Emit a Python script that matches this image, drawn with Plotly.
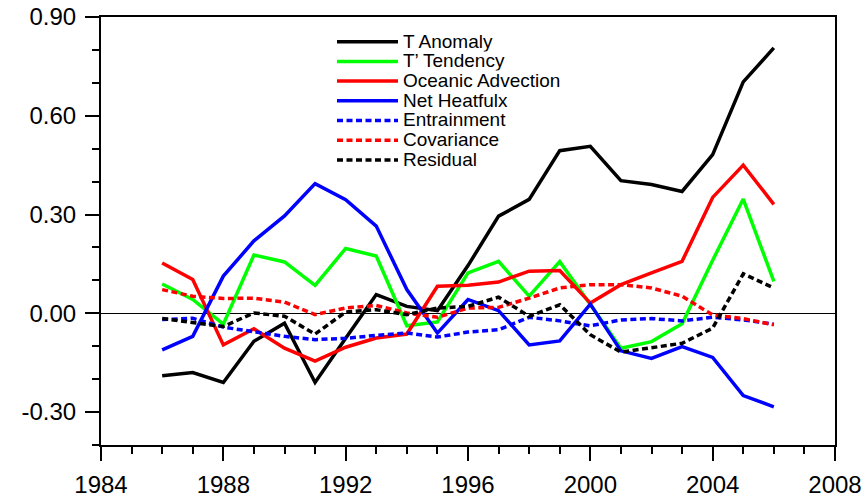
import plotly.graph_objects as go

years = list(range(1986, 2007))
t_anomaly = [-0.190, -0.180, -0.210, -0.085, -0.030, -0.210, -0.076, 0.057, 0.021, 0.008, 0.145,
             0.295, 0.346, 0.494, 0.507, 0.403, 0.391, 0.370, 0.482, 0.703, 0.806]
t_tendency = [0.089, 0.042, -0.033, 0.177, 0.156, 0.085, 0.197, 0.174, -0.038, -0.026, 0.123,
              0.158, 0.052, 0.157, 0.027, -0.106, -0.086, -0.032, 0.161, 0.347, 0.097]
oceanic_adv = [0.153, 0.103, -0.096, -0.047, -0.106, -0.145, -0.103, -0.075, -0.063, 0.082, 0.085,
               0.095, 0.128, 0.130, 0.031, 0.087, 0.123, 0.158, 0.352, 0.450, 0.331]
net_heatflux = [-0.111, -0.070, 0.113, 0.220, 0.296, 0.394, 0.345, 0.265, 0.072, -0.060, 0.042,
                0.008, -0.096, -0.084, 0.028, -0.114, -0.137, -0.101, -0.134, -0.250, -0.284]
entrainment = [-0.019, -0.015, -0.042, -0.055, -0.070, -0.080, -0.076, -0.067, -0.060, -0.072, -0.057,
               -0.050, -0.012, -0.023, -0.038, -0.020, -0.016, -0.023, -0.012, -0.020, -0.033]
covariance = [0.072, 0.052, 0.045, 0.046, 0.034, -0.004, 0.016, 0.024, 0.001, -0.012, 0.016,
              0.018, 0.046, 0.077, 0.087, 0.087, 0.077, 0.052, -0.005, -0.016, -0.035]
residual = [-0.016, -0.027, -0.040, 0.001, -0.009, -0.063, 0.004, 0.011, -0.004, 0.016, 0.021,
            0.049, -0.009, 0.026, -0.065, -0.118, -0.104, -0.091, -0.045, 0.120, 0.077]

labels = ["T Anomaly", "T\u2019 Tendency", "Oceanic Advection", "Net Heatfulx",
          "Entrainment", "Covariance", "Residual"]
x_tick_vals = [1984, 1988, 1992, 1996, 2000, 2004, 2008]
y_tick_vals = [-0.30, 0.00, 0.30, 0.60, 0.90]
y_tick_text = ["-0.30", "0.00", "0.30", "0.60", "0.90"]

series = [t_anomaly, t_tendency, oceanic_adv, net_heatflux, entrainment, covariance, residual]
colors = ["#000000", "#00ff00", "#ff0000", "#0000ff", "#0000ff", "#ff0000", "#000000"]
dashes = ["solid", "solid", "solid", "solid", "6px,3.5px", "6px,3.5px", "6px,3.5px"]

FONT = "Liberation Sans, Arial, Helvetica, sans-serif"
fig = go.Figure()
for name, vals, c, d in zip(labels, series, colors, dashes):
    fig.add_trace(go.Scatter(x=years, y=vals, mode="lines", name=name,
                             line=dict(color=c, width=3.5, dash=d), showlegend=False))

# manual legend (NCL-style tight spacing)
L, R, T, B = 101, 835, 17, 445
W, H = R - L, B - T
def px(x):
    return (x - L) / W
def py(y):
    return (B - y) / H
row0, step = 41.7, 19.7
for i, (name, c, d) in enumerate(zip(labels, colors, dashes)):
    yy = py(row0 + i * step)
    fig.add_shape(type="line", xref="paper", yref="paper", x0=px(337), x1=px(398), y0=yy, y1=yy,
                  line=dict(color=c, width=3.5, dash=d))
    fig.add_annotation(xref="paper", yref="paper", x=px(402), y=yy, text=name, showarrow=False,
                       xanchor="left", yanchor="middle", height=19.5, borderpad=0,
                       font=dict(family=FONT, size=19, color="black"))

axis_common = dict(showline=True, linecolor="black", linewidth=2, mirror=True,
                   ticks="outside", ticklen=14, tickwidth=2, tickcolor="black", automargin=False,
                   showgrid=False, tickfont=dict(family=FONT, size=24, color="black"))
fig.update_layout(
    width=865, height=502,
    margin=dict(l=L, r=865 - R, t=T, b=502 - B, autoexpand=False),
    plot_bgcolor="white", paper_bgcolor="white",
    xaxis=dict(range=[1984, 2008], tickvals=x_tick_vals, zeroline=False, ticklabelstandoff=3,
               minor=dict(dtick=1, tick0=1984, ticks="outside", ticklen=7, tickwidth=2, tickcolor="black"),
               **axis_common),
    yaxis=dict(range=[-0.40, 0.90], tickvals=y_tick_vals, ticktext=y_tick_text, ticklabelstandoff=4,
               zeroline=True, zerolinecolor="black", zerolinewidth=1,
               minor=dict(dtick=0.1, tick0=0, ticks="outside", ticklen=7, tickwidth=2, tickcolor="black"),
               **axis_common),
)
fig.write_html("out.html")
